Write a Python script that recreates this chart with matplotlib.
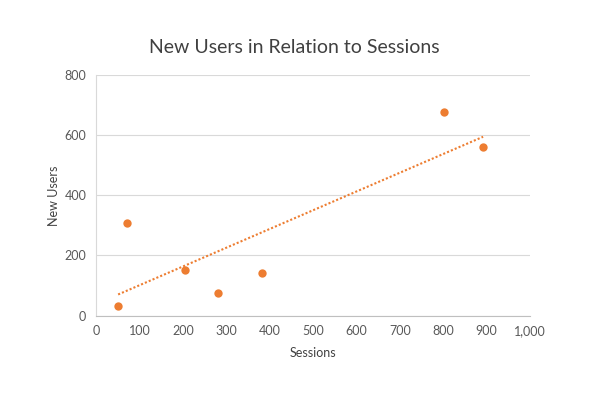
import numpy as np
import matplotlib.pyplot as plt
from matplotlib.ticker import FuncFormatter

plt.rcParams['font.family'] = ['Lato', 'DejaVu Sans']

sessions = [51, 72, 204, 280, 383, 802, 892]
new_users = [33, 307, 151, 74, 141, 677, 560]

orange = '#ED7D31'
grey_txt = '#595959'

fig = plt.figure(figsize=(6, 3.93), dpi=100)
ax = fig.add_axes([0.16, 0.197, 0.7233, 0.612])

ax.scatter(sessions, new_users, s=36, color=orange, zorder=3, linewidths=0)

# linear trendline
k, b = np.polyfit(sessions, new_users, 1)
xt = np.array([min(sessions), max(sessions)])
ax.plot(xt, k * xt + b, color=orange, lw=1.5, linestyle=(0, (1, 1)), zorder=2)

ax.set_xlim(0, 1000)
ax.set_ylim(0, 800)
ax.set_xticks(np.arange(0, 1001, 100))
ax.set_yticks(np.arange(0, 801, 200))
ax.xaxis.set_major_formatter(FuncFormatter(lambda x, pos: f'{int(x):,}'))
ax.grid(axis='y', color='#d9d9d9', lw=0.8)
ax.set_axisbelow(True)

for s in ['top', 'right']:
    ax.spines[s].set_visible(False)
ax.spines['left'].set_color('#d9d9d9')
ax.spines['bottom'].set_color('#bfbfbf')
ax.tick_params(length=0, labelsize=9, colors=grey_txt, pad=7)

ax.set_xlabel('Sessions', fontsize=9, color='#404040', labelpad=7)
ax.set_ylabel('New Users', fontsize=9, color='#404040', labelpad=3)

fig.text(0.49, 0.878, 'New Users in Relation to Sessions', ha='center', va='center',
         fontsize=14, color='#404040')

fig.savefig('out.png', dpi=100)
